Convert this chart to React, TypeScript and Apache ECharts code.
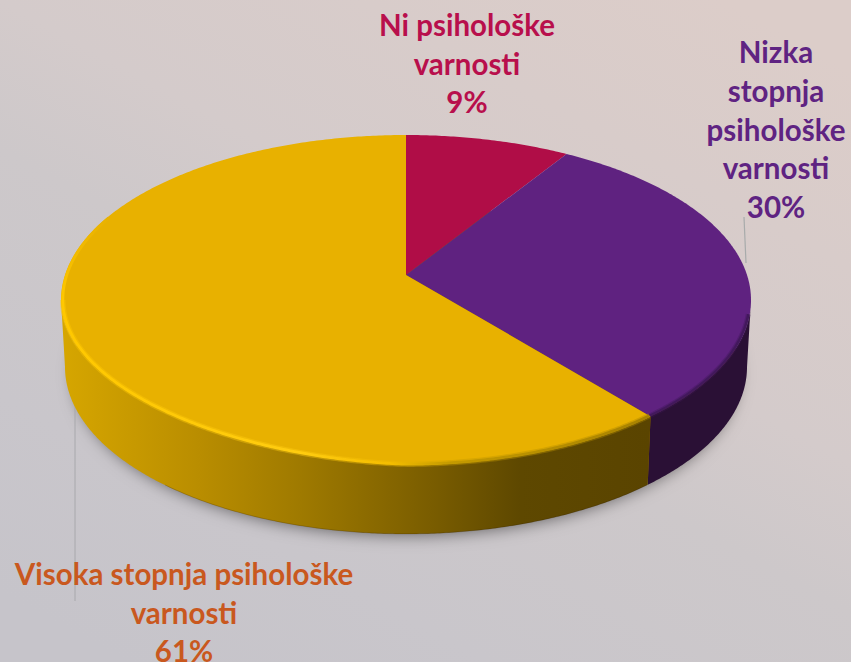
import React, { useEffect, useRef } from "react";
import * as echarts from "echarts";

const categories = ["Ni psihološke\nvarnosti", "Nizka\nstopnja\npsihološke\nvarnosti", "Visoka stopnja psihološke\nvarnosti"];
const shares = [9, 30, 61];
const topColors = ["#b00d47", "#5f2280", "#e8b100"];
const labelColors = ["#b80f4c", "#5f2382", "#c9581e"];
const labelCentres = [[467, 63], [776, 129], [184, 612]];

const W = 851, H = 662;
const TOP = { cx: 406, cy: 300, rx: 345, ry: 165 };
const BOTTOM = { cx: 406, cy: 367, rx: 341, ry: 167 };
const APEX_OFFSET = 25 / 165;
const RAD = Math.PI / 180;
const FONT = "Lato";

// a pie angle → angle round the rim, as seen from the off-centre apex (perspective)
function rimAngle(theta: number) {
  const k = APEX_OFFSET;
  const od = k * Math.cos(theta);
  const s = -od + Math.sqrt(od * od + 1 - k * k);
  const px = s * Math.sin(theta);
  const py = -k - s * Math.cos(theta);
  let a = Math.atan2(px, -py);
  if (a < -1e-6) a += 2 * Math.PI;
  if (theta >= 2 * Math.PI - 1e-6) a = 2 * Math.PI;
  return a;
}
const on = (e: any, a: number, scale = 1) => {
  const tuck = e === TOP && a > 180 * RAD && a < 270 * RAD ? 6 * Math.sin(2 * (a - 180 * RAD)) : 0;
  return [e.cx + e.rx * scale * Math.sin(a), e.cy - e.ry * scale * Math.cos(a) - tuck];
};
function arc(e: any, a: number, b: number, scale = 1) {
  const n = Math.max(2, Math.ceil(Math.abs(b - a) / (0.5 * RAD)));
  const pts: number[][] = [];
  for (let i = 0; i <= n; i++) pts.push(on(e, a + ((b - a) * i) / n, scale));
  return pts;
}
const LG = (echarts as any).graphic.LinearGradient;
const gradX = (x0: number, x1: number, stops: [number, string][]) =>
  new LG(x0, 0, x1, 0, stops.map(([x, color]) => ({ offset: (x - x0) / (x1 - x0), color })), true);
const gradY = (y0: number, y1: number, c0: string, c1: string) =>
  new LG(0, y0, 0, y1, [{ offset: 0, color: c0 }, { offset: 1, color: c1 }], true);

const total = shares.reduce((a, b) => a + b, 0);

function renderItem(params: any, api: any) {
  const i = params.dataIndex;
  const before = shares.slice(0, i).reduce((a, b) => a + b, 0);
  const v = api.value(0);
  const a = rimAngle((before / total) * 2 * Math.PI);
  const b = rimAngle(((before + v) / total) * 2 * Math.PI);
  const children: any[] = [];
  const wa = Math.max(a, 90 * RAD), wb = Math.min(b, 270 * RAD);
  if (wb > wa) {
    const fill = i === 2
      ? gradX(62, 650, [[62, "#d6a600"], [200, "#b98d00"], [300, "#9f7a00"], [430, "#7a5d00"], [520, "#5e4800"], [650, "#5a4400"]])
      : "#2a1035";
    children.push({
      type: "polygon",
      shape: { points: [...arc(TOP, wa, wb), ...arc(BOTTOM, wb, wa)] },
      style: { fill },
    });
    if (i === 2) {
      children.push({
        type: "polyline",
        shape: { points: arc(BOTTOM, 135 * RAD, 225 * RAD, 0.999) },
        style: { fill: "none", stroke: "rgba(40,25,0,0.22)", lineWidth: 1 },
      });
    }
  }
  children.push({
    type: "polygon",
    shape: { points: [[TOP.cx, TOP.cy - APEX_OFFSET * TOP.ry], ...arc(TOP, a, b)] },
    style: { fill: topColors[i] },
  });
  if (i === 1) {
    const pts = arc(TOP, 95 * RAD, b, 0.996);
    children.push({ type: "polyline", shape: { points: pts }, style: { fill: "none", stroke: "#3c1654", lineWidth: 5, opacity: 0.35 } });
    children.push({ type: "polyline", shape: { points: pts }, style: { fill: "none", stroke: "#3c1654", lineWidth: 2.5, opacity: 0.7 } });
  }
  if (i === 2) {
    const stroke = gradX(62, 650, [[62, "#ffc800"], [300, "#ffcc10"], [390, "#f4bd00"], [450, "#c49a00"], [650, "#a88200"]]);
    const pts = arc(TOP, a, 270 * RAD, 0.995);
    children.push({ type: "polyline", shape: { points: pts }, style: { fill: "none", stroke, lineWidth: 5.5, opacity: 0.4 } });
    children.push({ type: "polyline", shape: { points: pts }, style: { fill: "none", stroke, lineWidth: 2.8 } });
    children.push({
      type: "polyline",
      shape: { points: arc(TOP, 270 * RAD, 300 * RAD, 0.995) },
      style: { fill: "none", stroke: gradY(300, 215, "#ffc800", "#e8b100"), lineWidth: 3 },
    });
  }
  const [lx, ly] = labelCentres[i];
  children.push({
    type: "text",
    style: {
      text: `${categories[i]}\n${v}%`,
      x: lx,
      y: ly,
      align: "center",
      verticalAlign: "middle",
      fill: labelColors[i],
      fontFamily: FONT,
      fontWeight: 700,
      fontSize: 29.5,
      lineHeight: 38.7,
    },
  });
  return { type: "group", children };
}

export default function App() {
  const ref = useRef<HTMLDivElement>(null);
  useEffect(() => {
    document.body.style.margin = "0";
    document.body.style.overflow = "hidden";
    const chart = echarts.init(ref.current!, null, { renderer: "svg" });
    chart.setOption({
      animation: false,
      backgroundColor: new LG(0.85, 0, 0.15, 1, [
        { offset: 0, color: "#dccdc9" },
        { offset: 0.4, color: "#d4cbcb" },
        { offset: 0.55, color: "#cdc8ca" },
        { offset: 0.8, color: "#c9c6cb" },
        { offset: 1, color: "#c6c4ca" },
      ]),
      graphic: [
        {
          type: "ellipse", z: 0,
          shape: { cx: BOTTOM.cx, cy: BOTTOM.cy, rx: BOTTOM.rx - 9, ry: BOTTOM.ry - 6 },
          style: { fill: "#9a7000", shadowBlur: 16, shadowColor: "rgba(0,0,0,0.5)", shadowOffsetY: 7 },
        },
        { type: "line", z: 1, shape: { x1: 75, y1: 405, x2: 75, y2: 601 }, style: { stroke: "#a8a8ac", lineWidth: 1 } },
        { type: "line", z: 1, shape: { x1: 744, y1: 217, x2: 746, y2: 263 }, style: { stroke: "#a8abab", lineWidth: 1.2 } },
      ],
      series: [{
        type: "custom",
        coordinateSystem: "none",
        renderItem,
        silent: true,
        data: shares.map((v, i) => ({ name: categories[i], value: [v] })),
      }],
    });
    return () => chart.dispose();
  }, []);
  return <div ref={ref} style={{ position: "absolute", left: 0, top: 0, width: W, height: H }} />;
}
